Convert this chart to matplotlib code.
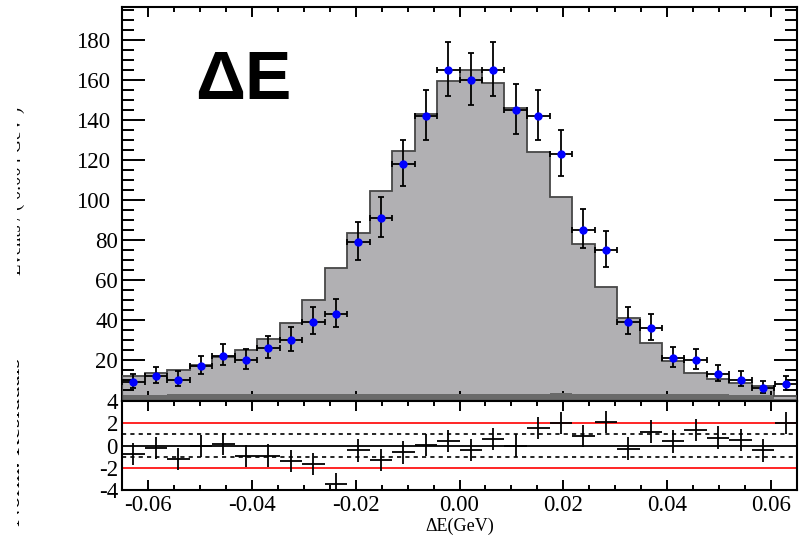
import numpy as np
import matplotlib.pyplot as plt
from matplotlib.ticker import MultipleLocator
from matplotlib.transforms import Bbox

plt.rcParams['font.family'] = ['Liberation Serif', 'DejaVu Serif']
plt.rcParams['axes.unicode_minus'] = False

# 30 bins de -0.065 a 0.065 GeV
bin_edges = np.linspace(-0.065, 0.065, 31)

data_counts = [9, 12, 10, 17, 22, 20, 26, 30, 39, 43, 79, 91, 118, 142, 165,
               160, 165, 145, 142, 123, 85, 75, 39, 36, 21, 20, 13, 10, 6, 8]
mc_total = [12, 13.3, 14.8, 17.5, 21.5, 24.8, 30.5, 38.5, 50, 66, 83.5, 104.5, 124.7, 143, 159.7,
            164.8, 158.3, 146, 124, 101.5, 78, 56.7, 40.8, 28.4, 19.5, 13.7, 10.4, 8.3, 7.0, 2.2]
mc_bkg = [2.6, 2.7, 2.8, 2.8, 2.9, 2.9, 3.0, 3.0, 3.0, 3.1, 3.1, 3.1, 3.2, 3.2, 3.2,
          3.2, 3.2, 3.1, 3.1, 3.4, 3.0, 3.0, 3.2, 2.9, 2.9, 2.8, 2.8, 2.7, 2.6, 0.4]
residuals = [-0.74, -0.23, -1.18, -0.02, 0.12, -0.92, -0.9, -1.42, -1.66, -3.5, -0.44, -1.33, -0.62, 0.06, 0.42,
             -0.38, 0.57, 0.0, 1.55, 1.99, 0.86, 2.14, -0.27, 1.25, 0.36, 1.4, 0.71, 0.5, -0.44, 1.99]

W, H = 807, 536
centers = 0.5 * (bin_edges[1:] + bin_edges[:-1])
half_w = 0.5 * (bin_edges[1] - bin_edges[0])
counts = np.array(data_counts, dtype=float)
# errores de Poisson (aprox. Gehrels)
err_lo = np.sqrt(counts - 0.25)
err_hi = 1 + np.sqrt(counts + 0.75)

fig = plt.figure(figsize=(W / 100, H / 100), dpi=100)


def px_axes(left, top, right, bottom):
    return fig.add_axes([left / W, 1 - bottom / H, (right - left) / W, (bottom - top) / H])


ax = px_axes(122, 7, 797, 401)
ax2 = px_axes(122, 401, 797, 490)

# Histograma MC
ax.stairs(mc_total, bin_edges, fill=True, color='#b1b0b3', zorder=1)
ax.stairs(mc_bkg, bin_edges, fill=True, color='#6a6a6a', zorder=2)
ax.stairs(mc_total, bin_edges, color='#474747', lw=1.3, zorder=3)

# Datos
ax.errorbar(centers, counts, xerr=half_w, yerr=[err_lo, err_hi], fmt='o', color='#0000ff',
            markersize=5, ecolor='black', elinewidth=1.3, capsize=2, capthick=1.3, zorder=5)

ax.set_xlim(-0.065, 0.065)
ax.set_ylim(-0.5, 196.5)
ax.set_yticks(range(20, 200, 20))
ax.yaxis.set_minor_locator(MultipleLocator(5))
ax.xaxis.set_major_locator(MultipleLocator(0.02))
ax.xaxis.set_minor_locator(MultipleLocator(0.005))
ax.tick_params(axis='x', which='both', direction='in', top=True, bottom=True, labelbottom=False, width=1.4)
ax.tick_params(axis='x', which='major', length=7)
ax.tick_params(axis='x', which='minor', length=3.5)
ax.tick_params(axis='y', which='both', direction='in', left=True, right=True, width=1.4,
               labelsize=16.5, pad=2.9)
ax.tick_params(axis='y', which='major', length=16.5)
ax.tick_params(axis='y', which='minor', length=8.6)
for tick, val in zip(ax.yaxis.get_major_ticks(), range(20, 200, 20)):
    if val >= 100:
        tick.set_pad(8.6)
for s in ax.spines.values():
    s.set_linewidth(1.5)

ax.text((195 - 122) / 675, 1 - (99 - 7) / 394, 'ΔE', transform=ax.transAxes, fontsize=50,
        fontweight='bold', family=['Liberation Sans', 'DejaVu Sans'], va='baseline', ha='left')

# Residuos normalizados
ax2.axhline(0, color='black', lw=1.3)
ax2.axhline(1, color='black', lw=1.2, ls=(0, (2.5, 2.5)))
ax2.axhline(-1, color='black', lw=1.2, ls=(0, (2.5, 2.5)))
ax2.axhline(2, color='red', lw=1.2)
ax2.axhline(-2, color='red', lw=1.2)
ax2.errorbar(centers, residuals, xerr=half_w, yerr=1, fmt='none', ecolor='black', elinewidth=1.3)

ax2.set_xlim(-0.065, 0.065)
ax2.set_ylim(-4, 4)
ax2.set_yticks([-4, -2, 0, 2, 4])
ax2.xaxis.set_major_locator(MultipleLocator(0.02))
ax2.xaxis.set_minor_locator(MultipleLocator(0.005))
ax2.tick_params(axis='x', which='both', direction='in', top=True, bottom=True, width=1.4,
                labelsize=16.5, pad=3.5)
ax2.tick_params(axis='x', which='major', length=7)
ax2.tick_params(axis='x', which='minor', length=3.5)
ax2.tick_params(axis='y', which='both', length=0, labelsize=16.5, pad=2.9)
for s in ax2.spines.values():
    s.set_linewidth(1.5)

fig.text(459.5 / W, 1 - 526 / H, 'ΔE(GeV)', fontsize=13, ha='center', va='center')

# Titulos de eje cortados por el borde del pad
clip = Bbox.from_extents(17, 0, 26, H)
for label, yc, size in [('Events / ( 0.004 GeV )', 191, 13.4), ('Norm. Residuals', 442, 18)]:
    t = fig.text(25 / W, 1 - yc / H, label, rotation=90, ha='right', va='center', fontsize=size)
    t.set_clip_box(clip)
    t.set_clip_on(True)

fig.savefig('out.png', dpi=100)
